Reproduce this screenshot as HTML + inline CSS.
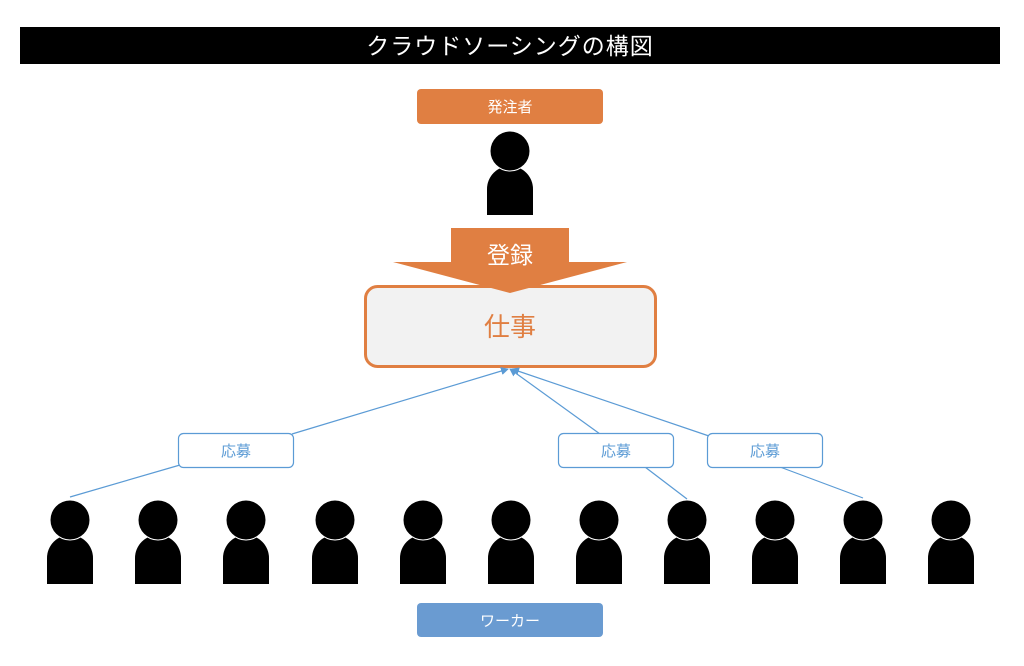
<!DOCTYPE html>
<html><head><meta charset="utf-8"><style>
body{margin:0;background:#fff;width:1024px;height:661px;overflow:hidden}
</style></head><body>
<svg width="1024" height="661" xmlns="http://www.w3.org/2000/svg" font-family="Liberation Sans, Noto Sans CJK JP, sans-serif">
<defs>
<g id="p">
<path d="M-23,64 L-23,38 A23,23 0 0 1 23,38 L23,64 Z" fill="#000"/>
<circle cx="0" cy="0" r="20.5" fill="#fff"/>
<circle cx="0" cy="0" r="19.5" fill="#000"/>
</g>
<marker id="a" markerWidth="8" markerHeight="8" refX="7" refY="4" orient="auto" markerUnits="userSpaceOnUse"><path d="M0,0 L8,4 L0,8 Z" fill="#5b9bd5"/></marker>
</defs>
<rect x="20" y="27" width="980" height="37" fill="#000"/>
<text x="510" y="54" fill="#fff" font-size="23" letter-spacing="1" text-anchor="middle">クラウドソーシングの構図</text>
<rect x="417" y="89" width="186" height="35" rx="4" fill="#e07f42"/>
<text x="510" y="112" fill="#fff" font-size="15" text-anchor="middle">発注者</text>
<use href="#p" x="510" y="151"/>
<rect x="365.5" y="286.5" width="290" height="80" rx="12" fill="#f2f2f2" stroke="#e07f42" stroke-width="3"/>
<text x="510" y="336" fill="#e07f42" font-size="26" text-anchor="middle">仕事</text>
<path d="M451,228 L569,228 L569,262 L627,262 L510,293 L393,262 L451,262 Z" fill="#e07f42"/>
<text x="510" y="263" fill="#fff" font-size="23" text-anchor="middle">登録</text>
<g stroke="#5b9bd5" stroke-width="1.2" fill="none">
<line x1="70" y1="497" x2="180" y2="465"/>
<line x1="292" y1="434" x2="508" y2="369" marker-end="url(#a)"/>
<line x1="687" y1="499" x2="645" y2="467"/>
<line x1="600" y1="434" x2="510" y2="369" marker-end="url(#a)"/>
<line x1="863" y1="498" x2="780" y2="467"/>
<line x1="709" y1="436" x2="512" y2="369" marker-end="url(#a)"/>
</g>
<g fill="#fff" stroke="#5b9bd5" stroke-width="1.2">
<rect x="178.5" y="433.5" width="115" height="34" rx="5"/>
<rect x="558.5" y="433.5" width="115" height="34" rx="5"/>
<rect x="707.5" y="433.5" width="115" height="34" rx="5"/>
</g>
<g fill="#5b9bd5" font-size="15" text-anchor="middle">
<text x="236" y="456">応募</text><text x="616" y="456">応募</text><text x="765" y="456">応募</text>
</g>
<use href="#p" x="70" y="520"/><use href="#p" x="158" y="520"/><use href="#p" x="246" y="520"/>
<use href="#p" x="335" y="520"/><use href="#p" x="423" y="520"/><use href="#p" x="511" y="520"/>
<use href="#p" x="599" y="520"/><use href="#p" x="687" y="520"/><use href="#p" x="775" y="520"/>
<use href="#p" x="863" y="520"/><use href="#p" x="951" y="520"/>
<rect x="417" y="603" width="186" height="34" rx="4" fill="#6a9bd1"/>
<text x="510" y="626" fill="#fff" font-size="15" text-anchor="middle">ワーカー</text>
</svg>
</body></html>
